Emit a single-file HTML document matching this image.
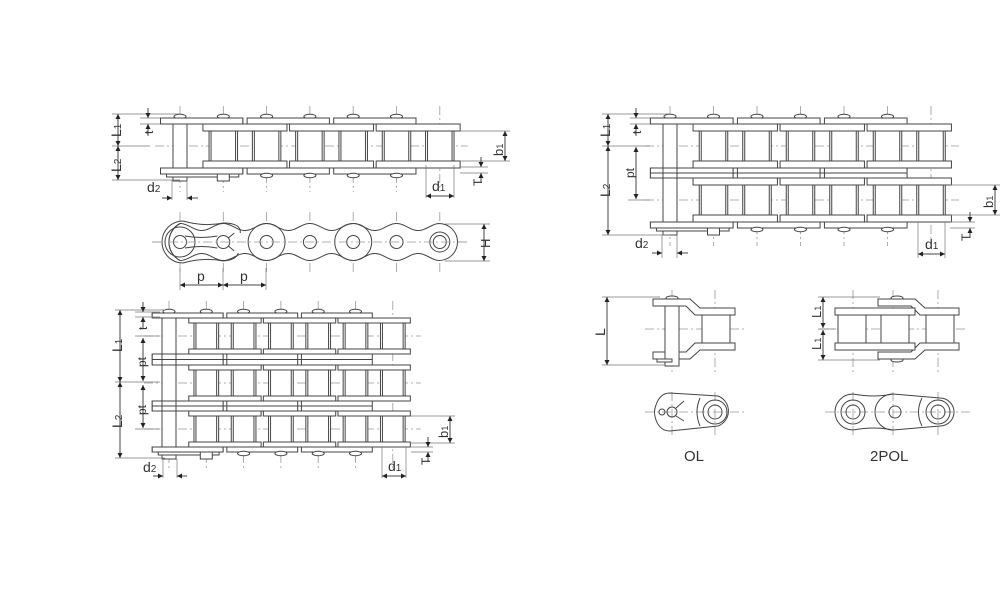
<!DOCTYPE html>
<html><head><meta charset="utf-8"><style>
html,body{margin:0;padding:0;background:#fff;}
svg{display:block;}
text{font-family:"Liberation Sans",sans-serif;fill:#333;}
</style></head><body>
<svg id="s" width="1000" height="611" viewBox="0 0 1000 611" xmlns="http://www.w3.org/2000/svg">
<g id="g" fill="none" stroke="#444" stroke-width="1"></g>
</svg>
<script>
var G=document.getElementById('g');var NS='http://www.w3.org/2000/svg';
function el(t,a,txt){var e=document.createElementNS(NS,t);for(var k in a)e.setAttribute(k,a[k]);if(txt!==undefined)e.textContent=txt;G.appendChild(e);return e;}
function R(x1,y1,x2,y2){el('rect',{x:x1,y:y1,width:x2-x1,height:y2-y1,fill:'#fff'});}
function L(x1,y1,x2,y2,c){el('line',{x1:x1,y1:y1,x2:x2,y2:y2,stroke:c||'#444'});}
function CL(x1,y1,x2,y2){el('line',{x1:x1,y1:y1,x2:x2,y2:y2,stroke:'#999','stroke-width':0.8,'stroke-dasharray':'9,3,2,3'});}
function THIN(x1,y1,x2,y2){el('line',{x1:x1,y1:y1,x2:x2,y2:y2,stroke:'#777','stroke-width':0.7});}
function C(x,y,r,f){el('circle',{cx:x,cy:y,r:r,fill:f||'none'});}
function arrow(x,y,dir){var s=5,w=2.5,p;
 if(dir=='u')p=[x,y,x-w,y+s,x+w,y+s];if(dir=='d')p=[x,y,x-w,y-s,x+w,y-s];
 if(dir=='l')p=[x,y,x+s,y-w,x+s,y+w];if(dir=='r')p=[x,y,x-s,y-w,x-s,y+w];
 el('polygon',{points:p.join(','),fill:'#222',stroke:'none'});}
function vdim(x,y1,y2){L(x,y1,x,y2,'#444');arrow(x,y1,'u');arrow(x,y2,'d');}
function hdim(y,x1,x2){L(x1,y,x2,y,'#444');arrow(x1,y,'l');arrow(x2,y,'r');}
function T(x,y,s,rot,sub,fs){fs=fs||14;var a={x:x,y:y,'font-size':fs,stroke:'none'};if(rot)a.transform='rotate(-90 '+x+' '+y+')';
 var t=el('text',a);t.appendChild(document.createTextNode(s));if(sub){var ts=document.createElementNS(NS,'tspan');ts.setAttribute('font-size',fs*0.72);ts.textContent=sub;t.appendChild(ts);}}

function chain(o){var P=o.pins,cs=o.cs,h=o.h,ti=o.ti,to=o.to,p=P[1]-P[0];
 var top=cs[0]-h-ti-to,bot=cs[cs.length-1]+h+ti+to;
 cs.forEach(function(c){CL(P[0]-25,c,P[6]+28,c);});
 P.forEach(function(x){CL(x,top-12,x,bot+18);});
 var op=[[0,1],[2,3],[4,5]],ip=[[1,2],[3,4],[5,6]];
 function plates(pairs,y1,y2,ext){pairs.forEach(function(q){R(P[q[0]]-ext,y1,P[q[1]]+ext,y2);});}
 var oe=p*0.45,ie=p*0.47;
 for(var i=0;i<6;i++){el('ellipse',{cx:P[i],cy:top-1.5,rx:6,ry:2.2,fill:'#fff'});}
 plates(op,top,top+to,oe);
 cs.forEach(function(c,k){
   for(var i=1;i<7;i++){R(P[i]-h*0.95,c-h,P[i]+h*0.95,c+h);L(P[i]-h*0.95+2,c-h,P[i]-h*0.95+2,c+h);L(P[i]+h*0.95-2,c-h,P[i]+h*0.95-2,c+h);}
   plates(ip,c-h-ti,c-h,ie);plates(ip,c+h,c+h+ti,ie);
   if(k<cs.length-1){var y1=c+h+ti,y2=cs[k+1]-h-ti;plates(op,y1,y2,oe);L(P[0]-oe,(y1+y2)/2,P[5]+oe,(y1+y2)/2);}
 });
 plates(op,bot-to,bot,oe);
 R(P[0]-7,top,P[0]+7,bot+7);
 R(P[0]-oe+6,bot,P[1]+oe-4,bot+3);
 R(P[1]-6,bot,P[1]+6,bot+7);
 for(var i=2;i<6;i++){el('ellipse',{cx:P[i],cy:bot+1.5,rx:6,ry:2.2,fill:'#fff'});}
 plates([[0,1]],top,top+to,oe);
 cs.forEach(function(c,k){if(k<cs.length-1){var y1=c+h+ti,y2=cs[k+1]-h-ti;R(P[0]-oe,y1,P[1]+oe,y2);L(P[0]-oe,(y1+y2)/2,P[1]+oe,(y1+y2)/2);}});
 plates([[0,1]],bot-to,bot,oe);
 L(P[0]-7,top+to,P[0]-7,bot-to);L(P[0]+7,top+to,P[0]+7,bot-to);
}
function pins(x0,p){var a=[];for(var i=0;i<7;i++)a.push(x0+i*p);return a;}

var P1=pins(180,43.3);
chain({pins:P1,cs:[146],h:15,ti:7,to:6});
THIN(112,114,180,114);THIN(112,180,180,180);THIN(112,146,150,146);
vdim(118,114,146);vdim(118,146,180);
T(121,137,'L',1,'1');T(121,172,'L',1,'2');
THIN(140,118,160,118);THIN(140,124,160,124);
L(148,108,148,118);arrow(148,118,'d');L(148,124,148,136);arrow(148,124,'u');T(153,134,'t',1,null,12);
THIN(460,131,510,131);THIN(460,161,510,161);vdim(505,131,161);T(503,156,'b',1,'1',13);
THIN(460,167,488,167);THIN(460,173,488,173);L(481,157,481,167);arrow(481,167,'d');L(481,173,481,183);arrow(481,173,'u');T(482,186,'T',1,null,12);
THIN(426,165,426,198);THIN(454,165,454,198);hdim(196,426,454);T(432,191,'d',0,'1');
THIN(172,180,172,200);THIN(187,180,187,200);L(162,198,172,198);arrow(172,198,'r');L(187,198,198,198);arrow(187,198,'l');T(147,192,'d',0,'2');

// side view
function side(P,cy){
 var p=P[1]-P[0];
 CL(P[0]-28,cy,P[6]+28,cy);
 P.forEach(function(x){CL(x,cy-30,x,cy+30);});
 function yy(x){return 15+3.5*Math.cos(2*Math.PI*(x-P[0])/p);}
 var tp=[],bp=[];
 for(var x=P[0];x<=P[6]+0.01;x+=1){tp.push(x.toFixed(1)+','+(cy-yy(x)).toFixed(1));bp.unshift(x.toFixed(1)+','+(cy+yy(x)).toFixed(1));}
 var d='M'+tp.join(' L')+' A18.5,18.5 0 0 1 '+bp[0]+' L'+bp.join(' L')+' A21,21 0 0 1 '+tp[0];
 el('path',{d:d,fill:'#fff'});
 // left end: full round r21 around pin0
 el('path',{d:'M'+P[0]+','+(cy-18.5)+' A21,21 0 0 0 '+P[0]+','+(cy+18.5),fill:'none'});
 el('path',{d:'M'+(P[0]+3)+','+(cy-21)+' A21,21 0 0 0 '+(P[0]+3)+','+(cy+21)+' Q'+(P[0]+24)+','+(cy+15)+' '+(P[1])+','+(cy+19),fill:'none'});
 el('path',{d:'M'+(P[0]+3)+','+(cy-21)+' Q'+(P[0]+24)+','+(cy-15)+' '+(P[1])+','+(cy-19)+' Q'+(P[1]+18)+','+(cy-19)+' '+(P[1]+17)+','+(cy-9),fill:'none'});
 el('path',{d:'M'+(P[1])+','+(cy+19)+' Q'+(P[1]+13)+','+(cy+18)+' '+(P[1]+15)+','+(cy+11),fill:'none'});
 C(P[0],cy,15);
 el('path',{d:'M'+(P[0]+5)+','+(cy-6)+' Q'+((P[0]+P[1])/2)+','+(cy-3)+' '+(P[1]-6)+','+(cy-6)+' M'+(P[0]+5)+','+(cy+6)+' Q'+((P[0]+P[1])/2)+','+(cy+3)+' '+(P[1]-6)+','+(cy+6),fill:'none'});
 el('path',{d:'M'+(P[1]+5)+','+(cy-4)+' L'+(P[1]+11)+','+(cy-9)+' M'+(P[1]+5)+','+(cy+4)+' L'+(P[1]+11)+','+(cy+9),fill:'none'});
 // full circles of outer plates
 [2,4].forEach(function(i){C(P[i],cy,18.5);});
 C(P[6],cy,10);C(P[6],cy,6.5);
 for(var i=0;i<6;i++){C(P[i],cy,6.5,'#fff');}
 CL(P[0]-28,cy,P[6]+28,cy);
}
side(P1,242);
THIN(445,224,490,224);THIN(445,261,490,261);vdim(484,224,261);T(490,248,'H',1,null,13);
THIN(180,268,180,290);THIN(223,268,223,290);THIN(266,268,266,290);
hdim(285,180,223);hdim(285,223,266);T(197,281,'p');T(240,281,'p');

var P2=pins(169,37.3);
chain({pins:P2,cs:[336,383,429],h:13,ti:5,to:5});
THIN(115,310,165,310);THIN(115,458,165,458);THIN(115,382,160,382);
vdim(120,310,382);vdim(120,382,458);T(122,352,'L',1,'1');T(122,428,'L',1,'2');
THIN(135,312,160,312);THIN(135,317,160,317);L(143,302,143,312);arrow(143,312,'d');L(143,317,143,328);arrow(143,317,'u');T(147,330,'t',1,null,12);
THIN(135,336,160,336);THIN(135,429,160,429);vdim(143,338,381);vdim(143,385,428);T(146,367,'pt',1,null,12);T(146,415,'pt',1,null,12);
THIN(411,416,455,416);THIN(411,443,455,443);vdim(450,416,443);T(448,438,'b',1,'1',13);
THIN(411,447,433,447);THIN(411,452,433,452);L(428,437,428,447);arrow(428,447,'d');L(428,452,428,462);arrow(428,452,'u');T(430,465,'T',1,null,12);
THIN(382,447,382,478);THIN(406,447,406,478);hdim(476,382,406);T(388,471,'d',0,'1');
THIN(163,459,163,478);THIN(177,459,177,478);L(153,476,163,476);arrow(163,476,'r');L(177,476,187,476);arrow(177,476,'l');T(143,472,'d',0,'2');

var P3=pins(670,43.5);
chain({pins:P3,cs:[146,200],h:15,ti:7,to:6});
THIN(602,114,670,114);THIN(602,235,670,235);THIN(602,146,650,146);THIN(628,200,650,200);
vdim(608,114,146);vdim(608,146,235);T(610,137,'L',1,'1');T(610,197,'L',1,'2');
THIN(630,118,650,118);THIN(630,124,650,124);L(636,108,636,118);arrow(636,118,'d');L(636,124,636,136);arrow(636,124,'u');T(641,134,'t',1,null,12);
vdim(636,147,199);T(634,178,'pt',1,null,12);
THIN(950,185,1000,185);THIN(950,215,1000,215);vdim(995,185,215);T(993,208,'b',1,'1',13);
THIN(950,222,975,222);THIN(950,228,975,228);L(970,212,970,222);arrow(970,222,'d');L(970,228,970,238);arrow(970,228,'u');T(970,241,'T',1,null,12);
THIN(918,222,918,258);THIN(945,222,945,258);hdim(254,918,945);T(925,249,'d',0,'1');
THIN(662,235,662,258);THIN(677,235,677,258);L(652,253,662,253);arrow(662,253,'r');L(677,253,688,253);arrow(677,253,'l');T(635,248,'d',0,'2');

CL(645,329,745,329);CL(672,290,672,372);CL(715,290,715,372);
el('ellipse',{cx:672,cy:298,rx:6,ry:2,fill:'#fff'});
el('path',{d:'M653,299 L690,299 L700,308 L735,308 L735,315 L695,315 L686,306 L653,306 Z',fill:'#fff'});
el('path',{d:'M653,352 L686,352 L695,343 L735,343 L735,350 L700,350 L690,359 L653,359 Z',fill:'#fff'});
R(702,315,730,343);
R(665,306,679,366);R(657,359,672,362);
THIN(602,297,660,297);THIN(602,365,665,365);vdim(607,297,365);T(605,336,'L',1);
CL(645,412,745,412);CL(672,392,672,435);CL(715,392,715,435);
el('path',{d:'M670,393 Q660,393 656,405 Q653,412 656,420 Q660,431 670,431 L718,426 A16,16 0 0 0 718,396 Z',fill:'none'});
el('path',{d:'M700,398 Q694,412 700,426',fill:'none'});
C(715,412,12);C(715,412,7);C(672,412,5);C(662,412,3);L(676,408,684,401);L(676,416,684,421);
T(684,461,'OL',0,null,15);

CL(820,329,965,329);[853,893,938].forEach(function(x){CL(x,290,x,372);});
el('ellipse',{cx:897,cy:298,rx:6,ry:2,fill:'#fff'});el('ellipse',{cx:897,cy:360,rx:6,ry:2,fill:'#fff'});
el('path',{d:'M878,299 L915,299 L925,308 L959,308 L959,315 L920,315 L911,306 L878,306 Z',fill:'#fff'});
el('path',{d:'M878,352 L911,352 L920,343 L959,343 L959,350 L925,350 L915,359 L878,359 Z',fill:'#fff'});
R(835,308,915,315);R(835,343,915,350);
[838,881,926].forEach(function(x){R(x,315,x+28,343);});
THIN(818,297,880,297);THIN(818,360,880,360);THIN(818,329,836,329);
vdim(823,297,328);vdim(823,330,360);T(821,318,'L',1,'1',13);T(821,350,'L',1,'1',13);
CL(825,412,970,412);[853,893,938].forEach(function(x){CL(x,392,x,435);});
el('path',{d:'M853,394 A18,18 0 0 0 853,430 Q875,426 893,430 L940,426 A14,14 0 0 0 940,398 L893,394 Q875,398 853,394 Z',fill:'none'});
el('path',{d:'M893,394 A18,18 0 0 0 893,430',fill:'none'});el('path',{d:'M922,398 Q915,412 922,426',fill:'none'});
C(853,412,12);C(853,412,7);C(938,412,12);C(938,412,7);C(895,412,6);
T(870,461,'2POL',0,null,15);
</script>
</body></html>
